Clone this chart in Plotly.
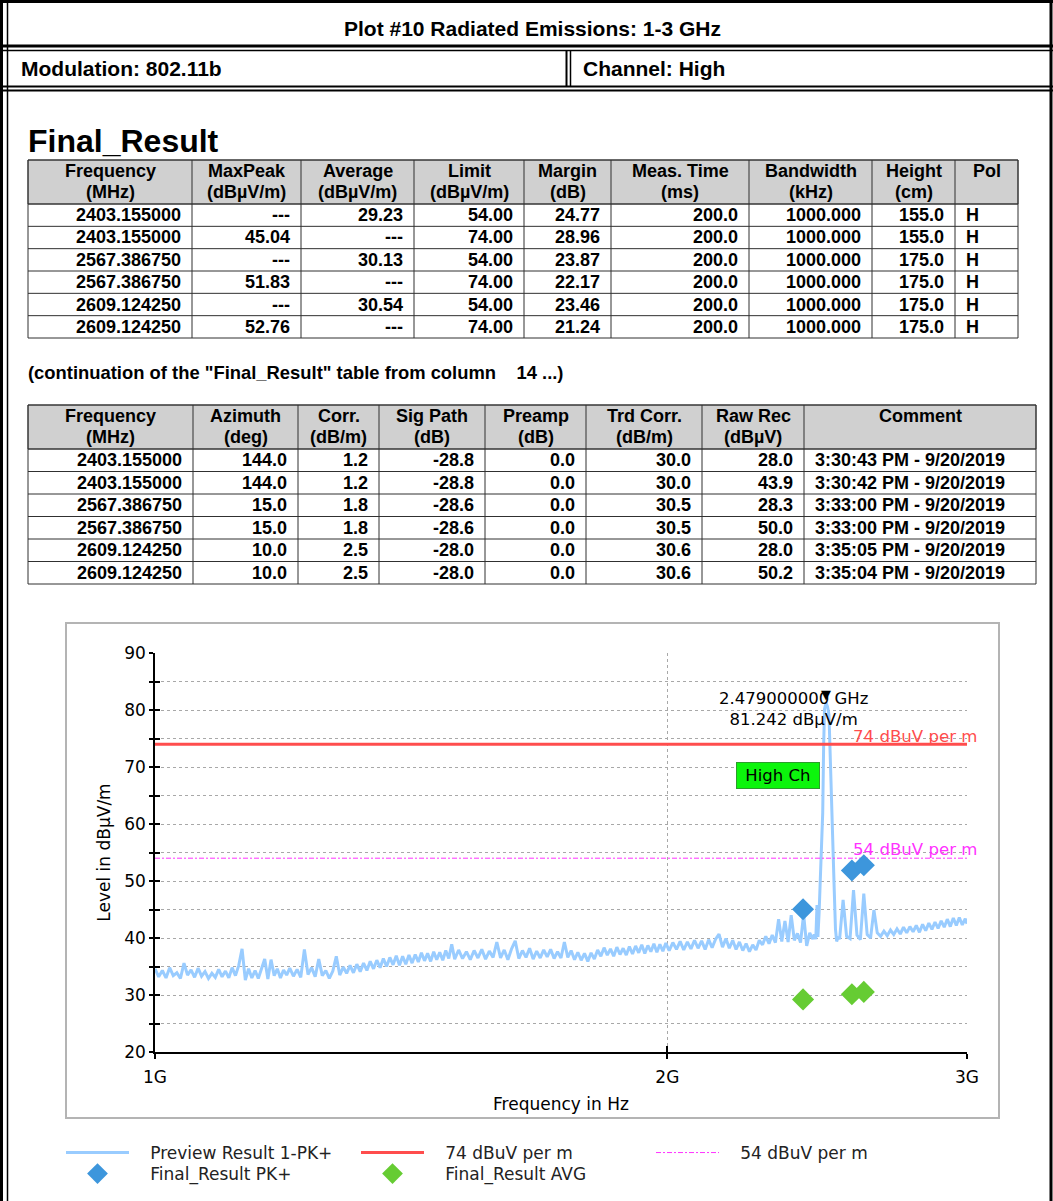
import math
import plotly.graph_objects as go

W, H = 1053, 1201
SANS = "Liberation Sans, Arial, sans-serif"
CHART = "DejaVu Sans, Verdana, sans-serif"

# ---------------- report header ----------------
report_title = "Plot #10 Radiated Emissions: 1-3 GHz"
modulation_label = "Modulation: 802.11b"
channel_label = "Channel: High"

# ---------------- Final_Result table ----------------
res_freq_mhz = [2403.155, 2403.155, 2567.38675, 2567.38675, 2609.12425, 2609.12425]
res_maxpeak = [None, 45.04, None, 51.83, None, 52.76]
res_average = [29.23, None, 30.13, None, 30.54, None]
res_limit = [54.00, 74.00, 54.00, 74.00, 54.00, 74.00]
res_margin = [24.77, 28.96, 23.87, 22.17, 23.46, 21.24]
res_meas_time = [200.0, 200.0, 200.0, 200.0, 200.0, 200.0]
res_bandwidth = [1000.0, 1000.0, 1000.0, 1000.0, 1000.0, 1000.0]
res_height = [155.0, 155.0, 175.0, 175.0, 175.0, 175.0]
res_pol = ["H", "H", "H", "H", "H", "H"]
res_azimuth = [144.0, 144.0, 15.0, 15.0, 10.0, 10.0]
res_corr = [1.2, 1.2, 1.8, 1.8, 2.5, 2.5]
res_sig_path = [-28.8, -28.8, -28.6, -28.6, -28.0, -28.0]
res_preamp = [0.0, 0.0, 0.0, 0.0, 0.0, 0.0]
res_trd_corr = [30.0, 30.0, 30.5, 30.5, 30.6, 30.6]
res_raw_rec = [28.0, 43.9, 28.3, 50.0, 28.0, 50.2]
res_comment = ["3:30:43 PM - 9/20/2019", "3:30:42 PM - 9/20/2019",
               "3:33:00 PM - 9/20/2019", "3:33:00 PM - 9/20/2019",
               "3:35:05 PM - 9/20/2019", "3:35:04 PM - 9/20/2019"]

table1_headers = [("Frequency", "(MHz)"), ("MaxPeak", "(dBµV/m)"), ("Average", "(dBµV/m)"),
                  ("Limit", "(dBµV/m)"), ("Margin", "(dB)"), ("Meas. Time", "(ms)"),
                  ("Bandwidth", "(kHz)"), ("Height", "(cm)"), ("Pol", "")]
table2_headers = [("Frequency", "(MHz)"), ("Azimuth", "(deg)"), ("Corr.", "(dB/m)"),
                  ("Sig Path", "(dB)"), ("Preamp", "(dB)"), ("Trd Corr.", "(dB/m)"),
                  ("Raw Rec", "(dBµV)"), ("Comment", "")]

# ---------------- preview sweep (PK+) ----------------
preview_freq_mhz = [
    1000, 1005, 1010, 1015, 1020, 1025, 1030, 1035, 1040, 1045, 1050, 1055, 1060, 1065,
    1070, 1075, 1080, 1085, 1090, 1095, 1100, 1105, 1110, 1115, 1120, 1125, 1130, 1135,
    1140, 1145, 1150, 1155, 1160, 1165, 1170, 1175, 1180, 1185, 1190, 1195, 1200,
    1206, 1212, 1218, 1224, 1230, 1236, 1242, 1248, 1254, 1260, 1266, 1272, 1278, 1284,
    1290, 1296, 1302, 1308, 1314, 1320, 1326, 1332, 1338, 1344, 1350, 1356, 1362, 1368,
    1374, 1380, 1386, 1392, 1398, 1404, 1410, 1416, 1422, 1428, 1434, 1440, 1446, 1452,
    1458, 1464, 1470, 1476, 1482, 1488, 1494, 1500,
    1508, 1516, 1524, 1532, 1540, 1548, 1556, 1564, 1572, 1580, 1588, 1596, 1604, 1612,
    1620, 1628, 1636, 1644, 1652, 1660, 1668, 1676, 1684, 1692, 1700, 1708, 1716, 1724,
    1732, 1740, 1748, 1756, 1764, 1772, 1780, 1788, 1796, 1804, 1812, 1820, 1828, 1836,
    1844, 1852, 1860, 1868, 1876, 1884, 1892, 1900, 1908, 1916, 1924, 1932, 1940, 1948,
    1956, 1964, 1972, 1980, 1988, 1996,
    2005, 2015, 2025, 2035, 2045, 2055, 2065, 2075, 2085, 2095, 2105, 2115, 2125, 2135,
    2145, 2155, 2165, 2175, 2185, 2195, 2205, 2215, 2225, 2235, 2245, 2255, 2265, 2275,
    2285, 2295, 2305, 2315, 2325, 2335, 2345, 2355, 2365, 2375, 2385, 2395, 2405, 2415,
    2425, 2435,
    2440, 2445, 2449, 2452, 2456, 2460, 2464, 2468, 2471, 2474, 2479, 2484, 2489, 2494,
    2499, 2503, 2507, 2511, 2515, 2520,
    2525, 2537, 2549, 2561, 2573, 2585, 2597, 2609, 2621, 2633, 2645, 2657, 2669, 2681,
    2693, 2705, 2717, 2729, 2741, 2753, 2765, 2777, 2789, 2801, 2813, 2825, 2837, 2849,
    2861, 2873, 2885, 2897, 2909, 2921, 2933, 2945, 2957, 2969, 2981, 2993, 3000,
]
preview_level = [
    34.6, 33.2, 34.3, 33.0, 34.8, 33.4, 33.9, 32.9, 35.6, 33.5, 34.4, 33.1, 34.7, 33.3,
    34.1, 32.9, 33.8, 33.1, 34.5, 33.2, 34.2, 33.0, 34.8, 33.4, 35.2, 38.1, 32.6, 34.6,
    33.0, 34.3, 32.9, 34.5, 36.3, 32.8, 36.2, 33.4, 34.6, 33.0, 34.4, 33.5, 34.7,
    33.3, 34.5, 33.1, 38.0, 33.6, 34.8, 33.2, 36.3, 33.4, 34.3, 32.9, 34.2, 36.8, 33.5,
    34.9, 33.8, 35.2, 33.9, 35.4, 34.1, 35.6, 34.3, 35.9, 34.6, 36.1, 34.8, 36.4, 35.0,
    36.6, 35.3, 36.9, 35.2, 36.8, 35.4, 37.0, 35.6, 37.1, 35.8, 37.4, 36.0, 37.3, 35.9,
    37.6, 36.2, 37.5, 36.1, 37.8, 36.4, 38.9, 36.3,
    37.9, 36.4, 37.6, 36.2, 37.8, 36.5, 38.0, 36.3, 37.7, 36.6, 39.3, 36.5, 37.9, 36.2,
    38.1, 39.5, 36.4, 37.8, 36.6, 38.2, 36.3, 37.7, 36.5, 37.9, 36.7, 38.0, 36.4, 37.6,
    36.5, 39.3, 36.6, 37.8, 36.2, 37.5, 36.1, 37.3, 35.9, 37.4, 36.3, 37.9, 36.8, 38.3,
    37.0, 38.1, 36.8, 38.4, 37.1, 38.2, 37.0, 38.5, 37.2, 38.6, 37.4, 38.8, 37.3, 38.7,
    37.6, 39.0, 37.5, 38.9, 37.7, 39.1,
    37.8, 39.2, 38.0, 39.4, 37.9, 39.3, 38.1, 39.6, 38.2, 39.5, 38.0, 39.7, 38.3, 39.8,
    40.7, 38.4, 39.9, 38.2, 39.6, 38.0, 39.3, 37.8, 39.0, 37.6, 38.8, 37.9, 39.6, 38.8,
    40.3, 39.0, 40.5, 39.2, 43.3, 39.4, 43.0, 39.3, 44.0, 39.6, 40.8, 39.2, 44.2, 38.6,
    40.9, 39.8,
    40.6, 39.8, 45.8, 40.2, 44.5, 49.5, 55.5, 62.0, 73.5, 80.2, 81.242, 80.6, 79.2, 71.5,
    62.0, 55.0, 48.0, 41.5, 39.4, 40.2,
    39.8, 46.7, 40.3, 39.9, 48.4, 40.5, 39.7, 47.8, 40.6, 40.0, 44.9, 40.9, 40.3, 41.2,
    40.4, 41.4, 40.6, 41.6, 40.7, 41.9, 40.9, 42.0, 41.1, 42.2, 41.0, 42.4, 41.3, 42.6,
    41.5, 42.8, 41.7, 43.0, 41.9, 43.3, 42.0, 43.5, 42.2, 43.6, 42.3, 43.4, 42.5,
]

limit_peak = 74.0
limit_avg = 54.0
limit_peak_name = "74 dBuV per m"
limit_avg_name = "54 dBuV per m"

marker_freq_ghz = 2.479
marker_level = 81.242

x_tick_hz = [1e9, 2e9, 3e9]
x_tick_text = ["1G", "2G", "3G"]
y_tick_vals = [20, 25, 30, 35, 40, 45, 50, 55, 60, 65, 70, 75, 80, 85, 90]
y_tick_text = ["20", "", "30", "", "40", "", "50", "", "60", "", "70", "", "80", "", "90"]

# ---------------- helpers (pixel -> paper) ----------------
def fx(x):
    return x / W


def fy(y):
    return 1 - y / H


shapes = []
annotations = []


def line(x0, y0, x1, y1, color="black", width=1.0):
    shapes.append(dict(type="line", xref="paper", yref="paper",
                       x0=fx(x0), y0=fy(y0), x1=fx(x1), y1=fy(y1),
                       line=dict(color=color, width=width)))


def box(x0, y0, x1, y1, fill=None, color="black", width=1.0):
    shapes.append(dict(type="rect", xref="paper", yref="paper", layer="below",
                       x0=fx(x0), y0=fy(y0), x1=fx(x1), y1=fy(y1),
                       fillcolor=fill if fill else "rgba(0,0,0,0)",
                       line=dict(color=color, width=width)))


def label(x, y, text, size, anchor="center", bold=False, family=SANS, color="black"):
    annotations.append(dict(xref="paper", yref="paper", x=fx(x), y=fy(y), text=text,
                            showarrow=False, xanchor=anchor, yanchor="middle",
                            borderpad=0, borderwidth=0,
                            font=dict(family=family, size=size, color=color,
                                      weight="bold" if bold else "normal")))


def fmt(v, nd):
    return "---" if v is None else f"{v:.{nd}f}"


def draw_table(edges, top, head_bottom, bottom, headers, columns, aligns):
    nrows = len(columns[0])
    row_h = (bottom - head_bottom) / nrows
    box(edges[0], top, edges[-1], head_bottom, fill="#d0d0d0", color="#404040", width=1)
    for i in range(nrows + 1):
        yy = head_bottom + i * row_h
        line(edges[0], yy, edges[-1], yy, color="#303030", width=1)
    line(edges[0], top, edges[-1], top, color="#303030", width=1)
    for xx in edges:
        line(xx, top, xx, bottom, color="#303030", width=1)
    for c, (h1, h2) in enumerate(headers):
        xc = (edges[c] + edges[c + 1]) / 2
        label(xc, top + 11, h1, 18, bold=True)
        if h2:
            label(xc, top + 32, h2, 18, bold=True)
    for c, col in enumerate(columns):
        for r, txt in enumerate(col):
            yc = head_bottom + (r + 0.5) * row_h
            if aligns[c] == "right":
                label(edges[c + 1] - 11, yc, txt, 18, anchor="right", bold=True)
            else:
                label(edges[c] + 11, yc, txt, 18, anchor="left", bold=True)


# ---------------- page frame & header ----------------
line(0, 1.5, W, 1.5, width=3)
line(1.5, 0, 1.5, H, width=3)
line(7.5, 0, 7.5, H, width=1.5)
line(W - 2, 0, W - 2, H, width=3)
line(0, 46, W, 46, width=3)
line(0, 50.5, W, 50.5, width=1.5)
line(0, 86.5, W, 86.5, width=2)
line(0, 90.5, W, 90.5, width=2)
line(566.5, 50, 566.5, 87, width=2)
line(570.5, 50, 570.5, 87, width=1.5)

label(W / 2 + 6, 29, report_title, 21, bold=True)
label(21, 69, modulation_label, 21, anchor="left", bold=True)
label(583, 69, channel_label, 21, anchor="left", bold=True)

label(28, 141, "Final_Result", 32, anchor="left", bold=True)

t1_cols = [
    [f"{v:.6f}" for v in res_freq_mhz],
    [fmt(v, 2) for v in res_maxpeak],
    [fmt(v, 2) for v in res_average],
    [fmt(v, 2) for v in res_limit],
    [fmt(v, 2) for v in res_margin],
    [fmt(v, 1) for v in res_meas_time],
    [fmt(v, 3) for v in res_bandwidth],
    [fmt(v, 1) for v in res_height],
    res_pol,
]
draw_table([28, 192, 301, 414, 524, 611, 749, 872, 955, 1018], 160, 204, 338,
           table1_headers, t1_cols, ["right"] * 8 + ["left"])

label(28, 372, "(continuation of the \"Final_Result\" table from column\u00a0\u00a0\u00a0\u00a014 ...)",
      18.4, anchor="left", bold=True)

t2_cols = [
    [f"{v:.6f}" for v in res_freq_mhz],
    [fmt(v, 1) for v in res_azimuth],
    [fmt(v, 1) for v in res_corr],
    [fmt(v, 1) for v in res_sig_path],
    [fmt(v, 1) for v in res_preamp],
    [fmt(v, 1) for v in res_trd_corr],
    [fmt(v, 1) for v in res_raw_rec],
    res_comment,
]
draw_table([28, 193, 298, 379, 485, 586, 702, 804, 1036], 405, 449, 584,
           table2_headers, t2_cols, ["right"] * 7 + ["left"])

# chart panel frame
box(66, 623, 999, 1118, color="#b4b4b4", width=2)

# ---------------- chart traces ----------------
preview_hz = [f * 1e6 for f in preview_freq_mhz]
span_hz = [preview_hz[0], preview_hz[-1]]

pk_f = [f * 1e6 for f, v in zip(res_freq_mhz, res_maxpeak) if v is not None]
pk_v = [v for v in res_maxpeak if v is not None]
av_f = [f * 1e6 for f, v in zip(res_freq_mhz, res_average) if v is not None]
av_v = [v for v in res_average if v is not None]

GAP = "\u00a0\u00a0\u00a0"  # space between legend swatch and its caption

fig = go.Figure()
fig.add_trace(go.Scatter(x=preview_hz, y=preview_level, mode="lines",
                         name=GAP + "Preview Result 1-PK+", legend="legend",
                         line=dict(color="#99ccff", width=3)))
fig.add_trace(go.Scatter(x=span_hz, y=[limit_peak, limit_peak], mode="lines",
                         name=GAP + limit_peak_name, legend="legend",
                         line=dict(color="#ff4d4d", width=3)))
fig.add_trace(go.Scatter(x=span_hz, y=[limit_avg, limit_avg], mode="lines",
                         name=GAP + limit_avg_name, legend="legend",
                         line=dict(color="#ff33ff", width=1, dash="5px,2px,2px,2px")))
fig.add_trace(go.Scatter(x=pk_f, y=pk_v, mode="markers", name=GAP + "Final_Result PK+",
                         legend="legend2",
                         marker=dict(symbol="diamond", size=17, color="#3d96dc")))
fig.add_trace(go.Scatter(x=av_f, y=av_v, mode="markers", name=GAP + "Final_Result AVG",
                         legend="legend2",
                         marker=dict(symbol="diamond", size=17, color="#66cc33")))
# carrier for the inner half of the crossing tick marks
fig.add_trace(go.Scatter(x=[], y=[], xaxis="x2", yaxis="y2", showlegend=False,
                         hoverinfo="skip"))

# peak marker and its readout
mx = math.log10(marker_freq_ghz * 1e9)
annotations.append(dict(xref="x", yref="y", x=mx, y=marker_level, text="▼",
                        showarrow=False, yanchor="bottom", yshift=0, borderpad=0,
                        font=dict(family="DejaVu Sans", size=13, color="black")))
annotations.append(dict(xref="x", yref="y", x=mx, y=marker_level,
                        text=f"{marker_freq_ghz:.9f} GHz<br>{marker_level:.3f} dBµV/m",
                        showarrow=False, align="center",
                        xanchor="center", yanchor="middle", xshift=-33, yshift=-6,
                        font=dict(family=CHART, size=16.5, color="black")))

# limit line captions
annotations.append(dict(xref="paper", yref="y", x=fx(852), y=limit_peak, text=limit_peak_name,
                        showarrow=False, xanchor="left", yanchor="bottom", yshift=-3,
                        borderpad=0, font=dict(family=CHART, size=16.6, color="#ff4d4d")))
annotations.append(dict(xref="paper", yref="y", x=fx(852), y=limit_avg, text=limit_avg_name,
                        showarrow=False, xanchor="left", yanchor="bottom", yshift=-2,
                        borderpad=0, font=dict(family=CHART, size=16.6, color="#ff33ff")))

# channel tag
annotations.append(dict(xref="paper", yref="paper", x=fx(778), y=fy(775),
                        text="\u00a0High Ch\u00a0",
                        showarrow=False, xanchor="center", yanchor="middle",
                        bgcolor="#0cf50c", bordercolor="#2c9c2c", borderwidth=1, borderpad=3,
                        font=dict(family=CHART, size=16.5, color="black")))

axis_font = dict(family=CHART, size=17, color="black")
xrange = [math.log10(1e9), math.log10(3e9)]
xdom = [fx(155), fx(967)]
ydom = [fy(1052), fy(653)]
legend_common = dict(orientation="h", xanchor="left", yanchor="middle",
                     entrywidth=217, entrywidthmode="pixels", itemwidth=63,
                     font=dict(family=CHART, size=17, color="#222222"),
                     bgcolor="rgba(0,0,0,0)", borderwidth=0, traceorder="normal")

fig.update_layout(
    width=W, height=H, template="none",
    margin=dict(l=0, r=0, t=0, b=0, autoexpand=False),
    paper_bgcolor="white", plot_bgcolor="white",
    showlegend=True,
    xaxis=dict(type="log", domain=xdom, range=xrange, anchor="y",
               tickmode="array", tickvals=x_tick_hz, ticktext=x_tick_text,
               ticks="outside", ticklen=5, tickwidth=1.5, tickcolor="black",
               ticklabelstandoff=4,
               showline=True, linecolor="black", linewidth=1.5,
               showgrid=True, gridcolor="#a8a8a8", gridwidth=1, griddash="dot",
               zeroline=False, tickfont=axis_font, automargin=False,
               title=dict(text="Frequency in Hz", font=axis_font, standoff=12)),
    yaxis=dict(domain=ydom, range=[20, 90], anchor="x",
               tickmode="array", tickvals=y_tick_vals, ticktext=y_tick_text,
               ticks="outside", ticklen=4, tickwidth=1.5, tickcolor="black",
               showline=True, linecolor="black", linewidth=1.5,
               showgrid=True, gridcolor="#a8a8a8", gridwidth=1, griddash="dot",
               zeroline=False, tickfont=axis_font, automargin=False,
               title=dict(text="Level in dBµV/m", font=axis_font, standoff=9)),
    xaxis2=dict(type="log", domain=xdom, range=xrange, overlaying="x", anchor="y2",
                side="bottom", tickmode="array", tickvals=x_tick_hz,
                ticks="inside", ticklen=6, tickwidth=1.5, tickcolor="black",
                showticklabels=False, showgrid=False, showline=False, zeroline=False),
    yaxis2=dict(domain=ydom, range=[20, 90], overlaying="y", anchor="x2", side="left",
                tickmode="array", tickvals=y_tick_vals,
                ticks="inside", ticklen=5, tickwidth=1.5, tickcolor="black",
                showticklabels=False, showgrid=False, showline=False, zeroline=False),
    legend=dict(x=fx(61), y=fy(1153), **legend_common),
    legend2=dict(x=fx(61), y=fy(1174), **legend_common),
    shapes=shapes,
    annotations=annotations,
)

fig.write_html("out.html")
